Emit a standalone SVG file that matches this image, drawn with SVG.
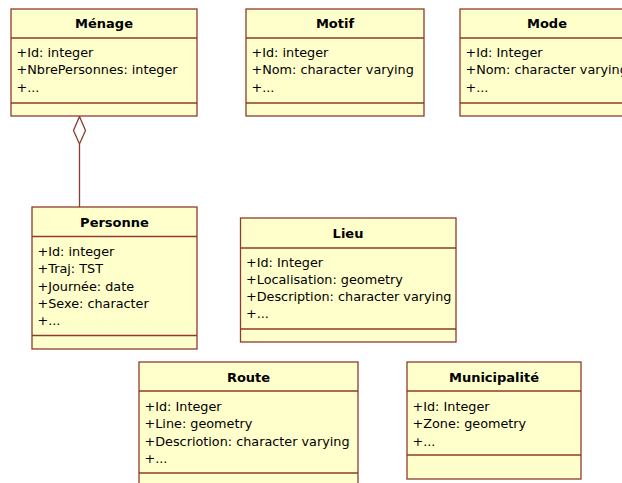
<svg xmlns="http://www.w3.org/2000/svg" width="622" height="483" viewBox="0 0 622 483">
<style>
.box{fill:#FFFFCC;stroke:#8E3A2E;stroke-width:1.3}
.sep{stroke:#8E3A2E;stroke-width:1.3}
.t{font-family:"DejaVu Sans",Verdana,sans-serif;font-size:13px;font-weight:bold;fill:#000;text-anchor:middle}
.a{font-family:"DejaVu Sans",Verdana,sans-serif;font-size:12.8px;fill:#000}
.conn{stroke:#8E3A2E;stroke-width:1.3;fill:none}
</style>
<rect width="622" height="483" fill="#FFFFFF"/>
<g id="connectors">
<line class="conn" x1="79.5" y1="144" x2="79.5" y2="207"/>
<polygon points="79.5,116.5 85.5,130.5 79.5,144 73.5,130.5" fill="#FFFFFF" stroke="#8E3A2E" stroke-width="1.3"/>
</g>
<g id="menage">
<rect class="box" x="11" y="9" width="186" height="107"/>
<line class="sep" x1="11" y1="38" x2="197" y2="38"/>
<line class="sep" x1="11" y1="103" x2="197" y2="103"/>
<text class="t" x="104" y="28">Ménage</text>
<text class="a" x="16.5" y="57">+Id: integer</text>
<text class="a" x="16.5" y="74.3">+NbrePersonnes: integer</text>
<text class="a" x="16.5" y="91.6">+...</text>
</g>
<g id="motif">
<rect class="box" x="246" y="9" width="178" height="107"/>
<line class="sep" x1="246" y1="38" x2="424" y2="38"/>
<line class="sep" x1="246" y1="103" x2="424" y2="103"/>
<text class="t" x="335" y="28">Motif</text>
<text class="a" x="251.5" y="57">+Id: integer</text>
<text class="a" x="251.5" y="74.3">+Nom: character varying</text>
<text class="a" x="251.5" y="91.6">+...</text>
</g>
<g id="mode">
<rect class="box" x="460" y="9" width="174" height="107"/>
<line class="sep" x1="460" y1="38" x2="634" y2="38"/>
<line class="sep" x1="460" y1="103" x2="634" y2="103"/>
<text class="t" x="547" y="28">Mode</text>
<text class="a" x="465.5" y="57">+Id: Integer</text>
<text class="a" x="465.5" y="74.3">+Nom: character varying</text>
<text class="a" x="465.5" y="91.6">+...</text>
</g>
<g id="personne">
<rect class="box" x="32" y="207" width="165" height="142"/>
<line class="sep" x1="32" y1="236.5" x2="197" y2="236.5"/>
<line class="sep" x1="32" y1="335.5" x2="197" y2="335.5"/>
<text class="t" x="114.5" y="226.5">Personne</text>
<text class="a" x="37.5" y="256">+Id: integer</text>
<text class="a" x="37.5" y="273.3">+Traj: TST</text>
<text class="a" x="37.5" y="290.6">+Journée: date</text>
<text class="a" x="37.5" y="307.9">+Sexe: character</text>
<text class="a" x="37.5" y="325.2">+...</text>
</g>
<g id="lieu">
<rect class="box" x="240.5" y="218" width="215.5" height="124"/>
<line class="sep" x1="240.5" y1="248" x2="456" y2="248"/>
<line class="sep" x1="240.5" y1="329" x2="456" y2="329"/>
<text class="t" x="348" y="237.5">Lieu</text>
<text class="a" x="246" y="266.5">+Id: Integer</text>
<text class="a" x="246" y="283.8">+Localisation: geometry</text>
<text class="a" x="246" y="301.1">+Description: character varying</text>
<text class="a" x="246" y="318.4">+...</text>
</g>
<g id="route">
<rect class="box" x="139" y="362" width="219" height="130"/>
<line class="sep" x1="139" y1="391" x2="358" y2="391"/>
<line class="sep" x1="139" y1="473" x2="358" y2="473"/>
<text class="t" x="248.5" y="381.5">Route</text>
<text class="a" x="144.5" y="411">+Id: Integer</text>
<text class="a" x="144.5" y="428.3">+Line: geometry</text>
<text class="a" x="144.5" y="445.6">+Descriotion: character varying</text>
<text class="a" x="144.5" y="462.9">+...</text>
</g>
<g id="municipalite">
<rect class="box" x="407" y="362" width="174" height="117"/>
<line class="sep" x1="407" y1="391" x2="581" y2="391"/>
<line class="sep" x1="407" y1="455" x2="581" y2="455"/>
<text class="t" x="494" y="381.5">Municipalité</text>
<text class="a" x="412.5" y="411">+Id: Integer</text>
<text class="a" x="412.5" y="428.3">+Zone: geometry</text>
<text class="a" x="412.5" y="445.6">+...</text>
</g>
</svg>
